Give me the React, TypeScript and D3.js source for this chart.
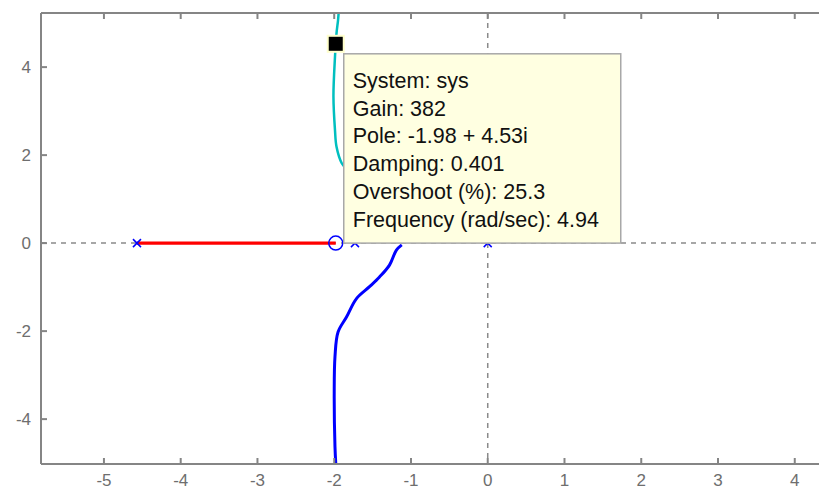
import * as d3 from 'd3';

const redBranch: [number, number][] = [[-4.57, 0], [-1.98, 0]];
const blueBranch: [number, number][] = [
  [-1.12, -0.04], [-1.19, -0.16], [-1.28, -0.5], [-1.41, -0.77], [-1.54, -0.99],
  [-1.71, -1.26], [-1.84, -1.68], [-1.95, -2.02], [-1.99, -2.58], [-2.0, -3.41],
  [-1.99, -4.63], [-1.98, -5.0],
];
const cyanBranch: [number, number][] = [
  [-1.12, 0.04], [-1.19, 0.16], [-1.28, 0.5], [-1.41, 0.77], [-1.54, 0.99],
  [-1.71, 1.26], [-1.84, 1.68], [-1.9, 1.81], [-1.97, 2.19], [-1.99, 2.57],
  [-2.01, 3.33], [-1.99, 4.23], [-1.97, 4.77], [-1.95, 5.07], [-1.94, 5.3],
];
const poles = [-4.57, -1.73, 0];
const zeros = [-1.98];
const xTicks = [-5, -4, -3, -2, -1, 0, 1, 2, 3, 4];
const yTicks = [-4, -2, 0, 2, 4];
const tipPoint: [number, number] = [-1.98, 4.53];
const tipLines = [
  'System: sys',
  'Gain: 382',
  'Pole: -1.98 + 4.53i',
  'Damping: 0.401',
  'Overshoot (%): 25.3',
  'Frequency (rad/sec): 4.94',
];

const W = 819;
const H = 491;

export default function App() {
  const x = d3.scaleLinear().domain([-5.82, 4.42]).range([41, 827]);
  const y = d3.scaleLinear().domain([-5.02, 5.23]).range([464, 13]);
  const line = d3.line<[number, number]>()
    .x(d => x(d[0]))
    .y(d => y(d[1]))
    .curve(d3.curveCatmullRom);
  const axisColor = '#858585';
  const labelColor = '#6e6e6e';
  const font = '"Liberation Sans", Arial, sans-serif';

  const tx = x(tipPoint[0]);
  const ty = y(tipPoint[1]);
  const boxX = tx + 8;
  const boxY = ty + 10;

  return (
    <svg width={W} height={H} style={{ position: 'absolute', left: 0, top: 0, background: '#fff' }}>
      <defs>
        <clipPath id="plot">
          <rect x={41} y={13} width={827 - 41} height={464 - 13} />
        </clipPath>
      </defs>

      {/* zero lines */}
      <line x1={41} x2={827} y1={y(0)} y2={y(0)} stroke="#8a8a8a" strokeWidth={1.5} strokeDasharray="5,5" />
      <line x1={x(0)} x2={x(0)} y1={13} y2={464} stroke="#8a8a8a" strokeWidth={1.5} strokeDasharray="5,5" />

      <g clipPath="url(#plot)">
        <path d={line(redBranch) || ''} fill="none" stroke="#ff0000" strokeWidth={3.2} />
        <path d={line(blueBranch) || ''} fill="none" stroke="#0000ff" strokeWidth={3} />
        <path d={line(cyanBranch) || ''} fill="none" stroke="#00bfbf" strokeWidth={2.5} />

        {poles.map((p, i) => (
          <g key={'p' + i} stroke="#0000ff" strokeWidth={1.5}>
            <line x1={x(p) - 4} x2={x(p) + 4} y1={y(0) - 4} y2={y(0) + 4} />
            <line x1={x(p) - 4} x2={x(p) + 4} y1={y(0) + 4} y2={y(0) - 4} />
          </g>
        ))}
        {zeros.map((z, i) => (
          <circle key={'z' + i} cx={x(z)} cy={y(0)} r={7} fill="none" stroke="#0000ff" strokeWidth={1.5} />
        ))}
      </g>

      {/* axes box */}
      <line x1={41} x2={827} y1={13} y2={13} stroke={axisColor} strokeWidth={2} />
      <line x1={41} x2={827} y1={464} y2={464} stroke={axisColor} strokeWidth={2} />
      <line x1={41} x2={41} y1={13} y2={464} stroke={axisColor} strokeWidth={2} />

      {xTicks.map(t => (
        <g key={'x' + t}>
          <line x1={x(t)} x2={x(t)} y1={464} y2={458} stroke={axisColor} strokeWidth={2} />
          <line x1={x(t)} x2={x(t)} y1={13} y2={19} stroke={axisColor} strokeWidth={2} />
          <text x={x(t)} y={486} textAnchor="middle" fontFamily={font} fontSize={17} fill={labelColor}>{t}</text>
        </g>
      ))}
      {yTicks.map(t => (
        <g key={'y' + t}>
          <line x1={41} x2={47} y1={y(t)} y2={y(t)} stroke={axisColor} strokeWidth={2} />
          <text x={31} y={y(t) + 6} textAnchor="end" fontFamily={font} fontSize={17} fill={labelColor}>{t}</text>
        </g>
      ))}

      {/* data tip */}
      <rect x={boxX} y={boxY} width={277} height={y(0) - boxY} fill="#ffffe1" stroke="#a8a8a8" strokeWidth={1.5} />
      {tipLines.map((s, i) => (
        <text key={s} x={boxX + 9} y={boxY + 34 + i * 27.8} fontFamily={font} fontSize={21.5} fill="#111">{s}</text>
      ))}
      <rect x={tx - 8} y={ty - 8} width={16} height={16} fill="#000" stroke="#ffffcc" strokeWidth={2} />
    </svg>
  );
}
